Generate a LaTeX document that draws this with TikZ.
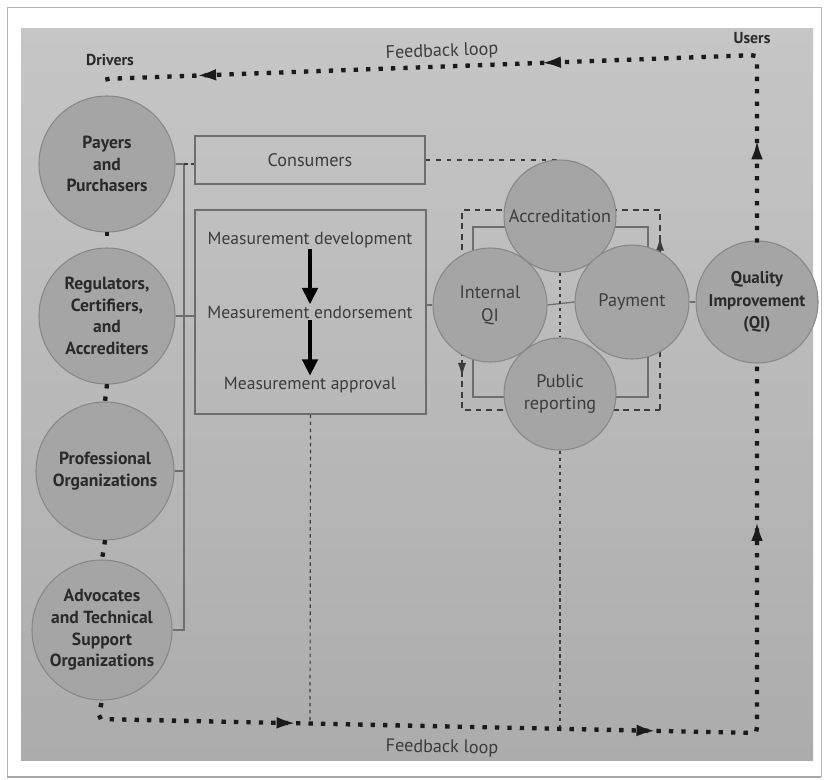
\documentclass[tikz,border=0pt]{standalone}
\usepackage{fontspec}
\setmainfont{PT Sans}
\usetikzlibrary{arrows.meta,decorations.markings,backgrounds}

\definecolor{pagetop}{HTML}{C6C6C6}
\definecolor{pagebot}{HTML}{ACACAC}
\definecolor{framegray}{HTML}{B4B4B4}
\definecolor{discfill}{HTML}{A5A5A5}
\definecolor{discline}{HTML}{878787}
\definecolor{ink}{HTML}{2A2A2A}
\definecolor{softink}{HTML}{3C3C3C}
\definecolor{rule}{HTML}{6E6E6E}
\definecolor{dotink}{HTML}{1A1A1A}

\tikzset{
  looptip/.tip={Latex[length=17pt,width=10pt]},
  ringtip/.tip={Latex[length=12pt,width=7pt]},
  bigtip/.tip={Triangle[length=14pt,width=13pt]},
  disc/.style={circle, draw=discline, fill=discfill, line width=0.9pt,
    align=center, text=ink, inner sep=0pt,
    font=\bfseries\fontsize{15}{18.5}\selectfont},
  hub/.style={disc, text=softink, font=\fontsize{15.5}{19.5}\selectfont},
  panel/.style={draw=rule, line width=1.1pt, rectangle, inner sep=0pt},
  stage/.style={text=softink, inner sep=1pt, font=\fontsize{15}{18}\selectfont},
  caption/.style={text=softink, font=\fontsize{15.5}{18}\selectfont},
  heading/.style={text=ink, font=\bfseries\fontsize{13.5}{16}\selectfont},
  link/.style={draw=rule, line width=1.1pt},
  faint/.style={draw=softink, line width=1pt, dash pattern=on 3pt off 3pt},
  dotted loop/.style={draw=dotink, line width=3.7pt, line cap=rect,
    dash pattern=on 0.01pt off 10.6pt, rounded corners=5pt},
  ring/.style={draw=softink, line width=1.6pt, dash pattern=on 5pt off 4pt},
  stepper/.style={draw=black, line width=3.4pt, -{bigtip}},
}

\begin{document}
\begin{tikzpicture}[x=0.03cm,y=-0.03cm]
\useasboundingbox (0,0) rectangle (825,779);

% drivers
\node[disc, minimum size=4.08cm] (pay)  at (107,164) {Payers\\and\\Purchasers};
\node[disc, minimum size=4.08cm] (reg)  at (107,316) {Regulators,\\Certifiers,\\and\\Accrediters};
\node[disc, minimum size=4.14cm] (prof) at (105,471) {Professional\\Organizations};
\node[disc, minimum size=4.20cm] (adv)  at (102,630) {Advocates\\and Technical\\Support\\Organizations};

% middle panels
\node[panel, minimum width=6.9cm, minimum height=1.44cm] (cons) at (310,160) {};
\node[caption] at (cons.center) {Consumers};
\node[panel, minimum width=6.93cm, minimum height=6.12cm] (meas) at (310.5,312) {};
\node[stage] (md) at (310,240) {Measurement development};
\node[stage] (me) at (310,312) {Measurement endorsement};
\node[stage] (ma) at (310,385) {Measurement approval};

% quality improvement mechanisms
\node[hub, minimum size=3.36cm] (acc)  at (560,216) {Accreditation};
\node[hub, minimum size=3.42cm] (iqi)  at (490,305) {Internal\\QI};
\node[hub, minimum size=3.42cm] (paym) at (632,302) {Payment};
\node[hub, minimum size=3.36cm] (pub)  at (560,394) {Public\\reporting};
\node[disc, minimum size=3.66cm, font=\bfseries\fontsize{14.5}{19}\selectfont] (qi) at (757,302) {Quality\\Improvement\\(QI)};

% headings
\node[heading] (drv) at (110,60) {Drivers};
\node[heading] (usr) at (752,38) {Users};
\node[caption, rotate=2] (fbt) at (442,52) {Feedback loop};
\node[caption, rotate=-1] (fbb) at (442,748) {Feedback loop};

% loop corners and drop points
\coordinate (ur) at (757,55);
\coordinate (ul) at (103,79);
\coordinate (bl) at (98,719);
\coordinate (br) at (757,733);
\coordinate (brk) at (184,0);
\coordinate (m1) at (310,724);
\coordinate (p1) at (560,729);

\begin{scope}[on background layer]
  \fill[white] (0,0) rectangle (825,779);
  \draw[framegray, line width=0.8pt] (7,7) rectangle (821,776);
  \draw[gray!70, line width=1.5pt] (7,777) -- (821,777);
  \shade[top color=pagetop, bottom color=pagebot] (21,28) rectangle (813,760);

  % drivers bracket
  \draw[link] (pay.east) -- (pay.east -| brk) -- (adv.east -| brk) -- (adv.east);
  \draw[link] (prof.east) -- (prof.east -| brk);
  \draw[link] (reg.east) -- (reg.east -| meas.west);
  \draw[faint] (pay.east -| brk) -- (pay.east -| cons.west);

  % mechanism cluster frames
  \draw[ring, postaction={decorate}, decoration={markings,
      mark=at position 5.2cm with {\arrow{ringtip}},
      mark=at position 16.95cm with {\arrow{ringtip}}}]
    (660,410) -- (660,210) -- (462,210) -- (462,410) -- cycle;
  \draw[link] (473,227) rectangle (648,397);

  % links into the cluster
  \draw[link] (meas.east |- iqi.west) -- (iqi.west);
  \draw[link] (iqi.east) -- (paym.west);
  \draw[link] (paym.east) -- (qi.west);
  \draw[faint, dash pattern=on 4pt off 5pt] (cons.east) -| (acc.north);
  \draw[faint] (acc.south) -- (pub.north);
  \draw[faint] (meas.south) -- (m1);
  \draw[faint] (pub.south) -- (p1);
\end{scope}

% measurement pipeline
\draw[stepper] (md.south) -- (me.north);
\draw[stepper] (me.south) -- (ma.north);

% dotted ties between drivers
\draw[dotted loop, shorten <=1.5pt, shorten >=1pt] (pay.south) -- (reg.north);
\draw[dotted loop, shorten <=1.5pt, shorten >=1pt] (reg.south) -- (prof.north);
\draw[dotted loop, shorten <=1.5pt, shorten >=1pt] (prof.south) -- (adv.north);

% feedback loops
\draw[dotted loop, shorten >=5pt, postaction={decorate}, decoration={markings,
    mark=at position 3.03cm with {\arrow{looptip}},
    mark=at position 11.97cm with {\arrow{looptip}},
    mark=at position 22.32cm with {\arrow{looptip}}}]
  (qi.north) -- (ur) -- (ul) -- (pay.north);
\draw[dotted loop, shorten <=4pt, postaction={decorate}, decoration={markings,
    mark=at position 6.43cm with {\arrow{looptip}},
    mark=at position 17.23cm with {\arrow{looptip}},
    mark=at position 26.53cm with {\arrow{looptip}}}]
  (adv.south) -- (bl) -- (br) -- (qi.south);
\end{tikzpicture}
\end{document}
